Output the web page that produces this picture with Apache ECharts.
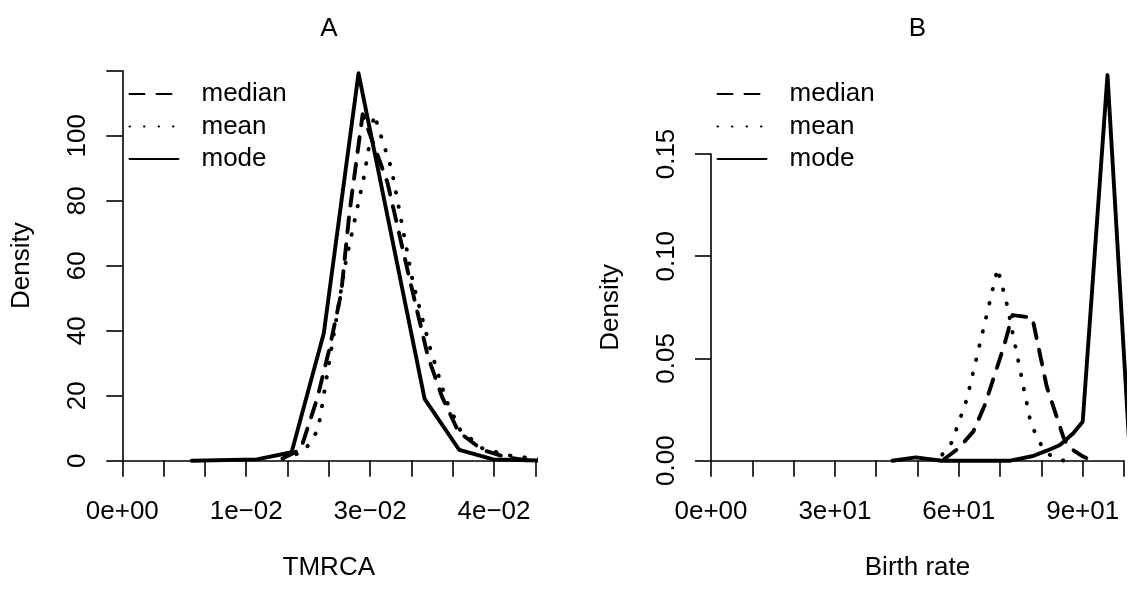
<!DOCTYPE html>
<html>
<head>
<meta charset="utf-8">
<script src="https://cdn.jsdelivr.net/npm/echarts@6/dist/echarts.min.js"></script>
<style>
html,body{margin:0;padding:0;background:#fff;}
#chart{width:1136px;height:596px;}
</style>
</head>
<body>
<div id="chart"></div>
<script>
// ---------- Panel A (TMRCA) ----------
var medianAX = [0.0194, 0.0216, 0.0236, 0.0251, 0.0265, 0.0275, 0.0291, 0.0321, 0.0348, 0.0370, 0.0387, 0.0407, 0.0436, 0.0466, 0.0493];
var medianAY = [0.7, 3.5, 19.2, 34.7, 51.6, 76.3, 106.6, 85.6, 55.7, 32.1, 19.7, 8.9, 3.3, 1.0, 0];
var meanAX = [0.0194, 0.0220, 0.0237, 0.0251, 0.0270, 0.0293, 0.0305, 0.0326, 0.0352, 0.0372, 0.0392, 0.0409, 0.0436, 0.0466, 0.0488, 0.0519];
var meanAY = [0.6, 2.8, 9.5, 31.1, 60.5, 87.9, 106.5, 89.7, 54.7, 35.2, 18.7, 9.5, 3.8, 1.7, 1.0, 0];
var modeAX = [0.0084, 0.0163, 0.0205, 0.0244, 0.0286, 0.0366, 0.0408, 0.0449, 0.0515];
var modeAY = [0, 0.4, 2.6, 39.3, 119.2, 19.0, 3.3, 0.4, 0];

// ---------- Panel B (Birth rate) ----------
var medianBX = [56.5, 59.9, 63.5, 66.3, 70.9, 73.0, 77.8, 81.3, 85.3, 86.5, 90.1, 92.5];
var medianBY = [0.0008, 0.006, 0.0142, 0.0272, 0.0558, 0.0712, 0.0700, 0.0362, 0.0117, 0.0068, 0.002, 0];
var meanBX = [56.0, 58.3, 61.9, 69.4, 71.7, 77.4, 78.9, 80.6, 83.1, 85.5];
var meanBY = [0.003, 0.009, 0.0297, 0.0941, 0.0761, 0.0186, 0.0117, 0.0052, 0.0012, 0];
var modeBX = [43.9, 49.6, 55.8, 72.5, 78.0, 81.3, 84.5, 87.7, 90.0, 96.0, 101.5];
var modeBY = [0, 0.0016, 0, 0, 0.0023, 0.0049, 0.0077, 0.0134, 0.0191, 0.1886, 0];

// ---------- Tick labels ----------
var xStepA = 0.005;
var xTickLabelsA = ['0e+00', '', '', '1e\u221202', '', '', '3e\u221202', '', '', '4e\u221202', ''];
var yStepA = 20;
var yTickLabelsA = ['0', '20', '40', '60', '80', '100', ''];
var xStepB = 10;
var xTickLabelsB = ['0e+00', '', '', '3e+01', '', '', '6e+01', '', '', '9e+01', ''];
var yStepB = 0.05;
var yTickLabelsB = ['0.00', '0.05', '0.10', '0.15'];

var seriesNames = ['median', 'mean', 'mode'];
var panelTitles = ['A', 'B'];
var xTitles = ['TMRCA', 'Birth rate'];

function zip(xs, ys) { return xs.map(function (x, i) { return [x, ys[i]]; }); }

var FONT = '"Liberation Sans", Arial, Helvetica, sans-serif';
var FS = 26;
var LW = 3.9;
var dashStyles = { median: [15, 12], mean: [0.5, 14], mode: 'solid' };

function mkSeries(name, xs, ys, idx) {
  return {
    type: 'line', name: name, xAxisIndex: idx, yAxisIndex: idx,
    data: zip(xs, ys), symbol: 'none', showSymbol: false, clip: false,
    silent: true, animation: false,
    itemStyle: { color: '#000' },
    lineStyle: { color: '#000', width: LW, type: dashStyles[name], cap: 'round', join: 'round' }
  };
}

function mkX(idx, step, labels, max, name) {
  return {
    type: 'value', gridIndex: idx, min: 0, max: max, interval: step,
    name: name, nameLocation: 'middle', nameGap: 94,
    nameTextStyle: { fontSize: FS, color: '#000', fontFamily: FONT },
    axisLine: { show: true, onZero: false, lineStyle: { color: '#000', width: 1.6 } },
    axisTick: { show: true, length: 16, lineStyle: { color: '#000', width: 1.6 } },
    axisLabel: {
      fontSize: FS, color: '#000', fontFamily: FONT, margin: 38, hideOverlap: false,
      formatter: function (v) { var l = labels[Math.round(v / step)]; return l === undefined ? '' : l; }
    },
    splitLine: { show: false }
  };
}

function mkY(idx, step, labels, max) {
  return {
    type: 'value', gridIndex: idx, min: 0, max: max, interval: step,
    name: 'Density', nameLocation: 'middle', nameGap: 87, nameRotate: 90,
    nameTextStyle: { fontSize: FS, color: '#000', fontFamily: FONT },
    axisLine: { show: true, onZero: false, lineStyle: { color: '#000', width: 1.6 } },
    axisTick: { show: true, length: 16, lineStyle: { color: '#000', width: 1.6 } },
    axisLabel: {
      fontSize: FS, color: '#000', fontFamily: FONT, margin: 31, rotate: 90, hideOverlap: false,
      formatter: function (v) { var l = labels[Math.round(v / step)]; return l === undefined ? '' : l; }
    },
    splitLine: { show: false }
  };
}

function mkLegend(left) {
  return {
    left: left, top: 81, orient: 'vertical', padding: 0,
    itemWidth: 49, itemHeight: 14, itemGap: 6.5,
    itemStyle: { opacity: 0 },
    textStyle: { fontSize: FS, color: '#000', fontFamily: FONT, padding: [0, 0, 0, 18] },
    selectedMode: false,
    data: seriesNames
  };
}

var chart = echarts.init(document.getElementById('chart'), null, { renderer: 'canvas' });
chart.setOption({
  animation: false,
  backgroundColor: '#fff',
  title: [
    { text: panelTitles[0], left: 328.8, top: 16, textAlign: 'center', padding: 0,
      textStyle: { fontSize: FS, fontWeight: 'normal', color: '#000', fontFamily: FONT } },
    { text: panelTitles[1], left: 917.5, top: 16, textAlign: 'center', padding: 0,
      textStyle: { fontSize: FS, fontWeight: 'normal', color: '#000', fontFamily: FONT } }
  ],
  legend: [mkLegend(128.5), mkLegend(716.5)],
  grid: [
    { left: 122.3, top: 70.7, width: 413, height: 390, containLabel: false },
    { left: 711, top: 154, width: 413, height: 306.7, containLabel: false }
  ],
  xAxis: [mkX(0, xStepA, xTickLabelsA, 0.05, xTitles[0]), mkX(1, xStepB, xTickLabelsB, 100, xTitles[1])],
  yAxis: [mkY(0, yStepA, yTickLabelsA, 120), mkY(1, yStepB, yTickLabelsB, 0.15)],
  series: [
    mkSeries('median', medianAX, medianAY, 0),
    mkSeries('mean', meanAX, meanAY, 0),
    mkSeries('mode', modeAX, modeAY, 0),
    mkSeries('median', medianBX, medianBY, 1),
    mkSeries('mean', meanBX, meanBY, 1),
    mkSeries('mode', modeBX, modeBY, 1)
  ]
});
</script>
</body>
</html>
